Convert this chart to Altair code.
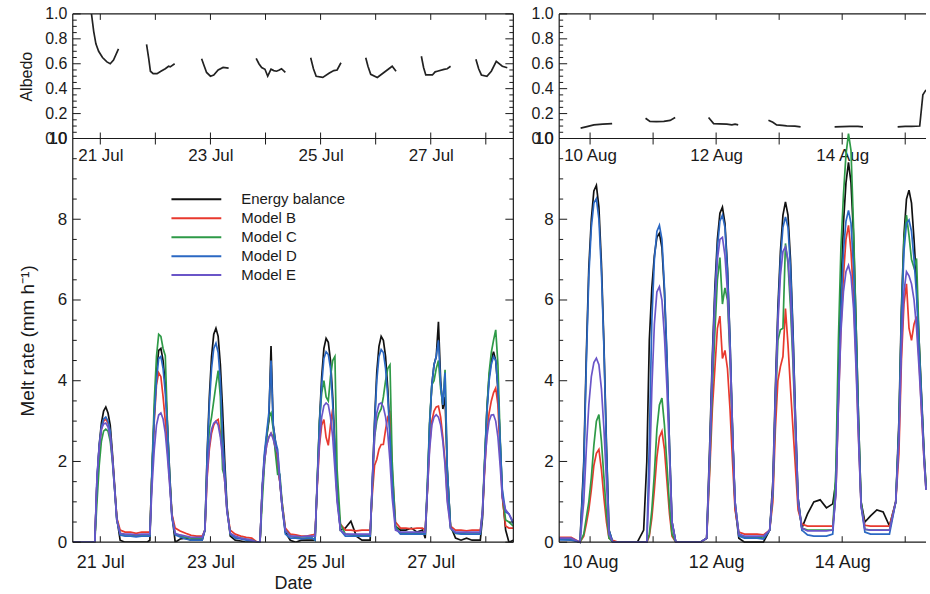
import altair as alt
import pandas as pd

FONT = "Liberation Sans"
INK = "#1a1a1a"
SERIES = ["Energy balance", "Model B", "Model C", "Model D", "Model E"]
COLORS = ["#111111", "#e8392e", "#2e9a47", "#2b68c3", "#6a55c8"]

# time grid (day of month), offsets around each day
OFFS = [-0.10, -0.06, -0.02, 0.02, 0.06, 0.10, 0.14, 0.18, 0.22, 0.26, 0.30,
        0.36, 0.45, 0.55, 0.65, 0.75, 0.85]
T_LEFT = ([20.50, 20.75, 20.85]
          + [round(d + o, 2) for d in range(21, 28) for o in OFFS]
          + [round(28 + o, 2) for o in OFFS[:11]] + [28.36, 28.42, 28.50])
T_RIGHT = ([9.51, 9.70, 9.84]
           + [round(d + o, 2) for d in range(10, 15) for o in OFFS]
           + [round(15 + o, 2) for o in OFFS[:11]] + [15.33])

# ---- melt rate, 20-28 July ----
BLACK_L = [
    0, 0, 0,
    0, 1.5, 2.4, 2.95, 3.25, 3.35, 3.2, 2.9, 2.2, 1.4, 0.6, 0.05, 0, 0, 0, 0, 0,
    0.05, 1.8, 3.2, 4.2, 4.75, 4.8, 4.5, 3.9, 2.9, 1.7, 0.7, 0.0, 0.08, 0.1, 0.05, 0.05, 0.05,
    0.3, 2.2, 3.6, 4.6, 5.15, 5.3, 5.1, 4.4, 3.3, 2.0, 0.9, 0.15, 0.05, 0.03, 0.0, 0.0, 0,
    0, 1.3, 2.1, 2.6, 3.0, 4.86, 2.9, 2.5, 2.0, 1.5, 0.9, 0.25, 0.05, 0.0, 0.05, 0.05, 0.05,
    0.05, 1.5, 3.0, 4.1, 4.8, 5.05, 4.95, 4.5, 3.6, 2.4, 1.2, 0.3, 0.35, 0.52, 0.15, 0.05, 0.05,
    0.05, 1.5, 3.0, 4.2, 4.85, 5.1, 5.0, 4.6, 3.8, 2.7, 1.5, 0.4, 0.3, 0.3, 0.35, 0.25, 0.3,
    0.1, 1.3, 2.9, 3.9, 4.4, 4.6, 5.46, 4.0, 3.3, 3.6, 1.8, 0.4, 0.1, 0.05, 0.1, 0.05, 0.05,
    0.05, 0.6, 2.0, 3.3, 4.1, 4.5, 4.72, 4.5, 3.8, 2.5, 1.2, 0.3, 0.0, 0.05,
]
RED_L = [
    0, 0, 0,
    0, 1.5, 2.3, 2.8, 3.0, 3.05, 2.95, 2.7, 2.1, 1.35, 0.6, 0.3, 0.25, 0.25, 0.22, 0.25, 0.25,
    0.25, 1.8, 3.0, 3.9, 4.2, 4.1, 3.6, 3.0, 2.3, 1.5, 0.7, 0.35, 0.28, 0.22, 0.17, 0.15, 0.15,
    0.3, 1.6, 2.3, 2.7, 2.9, 3.0, 3.04, 2.7, 2.2, 1.5, 0.8, 0.3, 0.2, 0.15, 0.12, 0.1, 0,
    0, 1.3, 2.0, 2.4, 2.6, 2.7, 2.6, 2.3, 1.9, 1.5, 1.0, 0.35, 0.2, 0.18, 0.15, 0.15, 0.18,
    0.2, 1.4, 2.4, 2.9, 3.04, 2.6, 2.4, 2.9, 3.3, 2.2, 1.1, 0.45, 0.3, 0.3, 0.28, 0.3, 0.3,
    0.3, 1.2, 1.9, 2.05, 2.3, 2.42, 2.42, 2.79, 3.1, 3.2, 1.8, 0.5, 0.35, 0.35, 0.33, 0.35, 0.35,
    0.3, 1.3, 2.4, 3.0, 3.25, 3.35, 3.37, 3.1, 2.6, 2.0, 1.1, 0.4, 0.3, 0.3, 0.28, 0.3, 0.3,
    0.3, 0.7, 1.8, 2.7, 3.2, 3.5, 3.7, 3.82, 3.4, 2.2, 1.1, 0.4, 0.35, 0.35,
]
GREEN_L = [
    0, 0, 0,
    0, 1.0, 1.9, 2.5, 2.75, 2.8, 2.75, 2.5, 2.0, 1.3, 0.55, 0.22, 0.18, 0.18, 0.17, 0.18, 0.18,
    0.18, 1.9, 3.5, 4.6, 5.15, 5.1, 4.8, 4.62, 2.9, 1.6, 0.65, 0.2, 0.15, 0.12, 0.1, 0.1, 0.1,
    0.3, 1.9, 2.8, 3.1, 3.5, 3.9, 4.25, 3.6, 1.8, 1.6, 0.8, 0.2, 0.12, 0.1, 0.07, 0.05, 0,
    0, 1.0, 1.9, 2.6, 3.1, 3.2, 2.8, 2.2, 1.68, 1.68, 1.0, 0.3, 0.15, 0.12, 0.1, 0.1, 0.1,
    0.05, 1.6, 3.0, 3.7, 4.0, 3.6, 3.5, 4.1, 4.5, 4.6, 1.8, 0.45, 0.2, 0.18, 0.17, 0.17, 0.17,
    0.15, 1.4, 2.6, 3.0, 3.2, 3.3, 3.6, 4.0, 4.3, 4.39, 2.0, 0.4, 0.22, 0.22, 0.22, 0.22, 0.22,
    0.2, 1.5, 3.0, 3.9, 4.0, 4.3, 4.5, 3.8, 3.4, 4.27, 1.8, 0.35, 0.22, 0.22, 0.2, 0.2, 0.2,
    0.2, 0.8, 2.1, 3.3, 4.2, 4.7, 5.0, 5.26, 4.4, 2.6, 1.2, 0.55, 0.5, 0.4,
]
BLUE_L = [
    0, 0, 0,
    0, 1.6, 2.4, 2.85, 3.05, 3.1, 3.0, 2.75, 2.1, 1.35, 0.55, 0.18, 0.15, 0.15, 0.13, 0.15, 0.15,
    0.15, 1.8, 3.1, 4.0, 4.55, 4.6, 4.3, 3.7, 2.8, 1.6, 0.6, 0.18, 0.13, 0.08, 0.05, 0.05, 0.05,
    0.3, 2.1, 3.4, 4.3, 4.8, 4.93, 4.7, 4.0, 2.6, 1.8, 0.8, 0.2, 0.1, 0.08, 0.05, 0.03, 0,
    0, 1.4, 2.2, 2.7, 3.2, 4.5, 2.9, 2.5, 2.3, 1.6, 0.9, 0.2, 0.1, 0.1, 0.08, 0.1, 0.1,
    0.05, 1.5, 2.9, 3.9, 4.55, 4.72, 4.65, 4.3, 3.4, 2.3, 1.1, 0.3, 0.15, 0.15, 0.15, 0.15, 0.15,
    0.15, 1.5, 2.9, 4.0, 4.6, 4.77, 4.7, 4.3, 3.6, 2.6, 1.5, 0.35, 0.2, 0.2, 0.2, 0.2, 0.2,
    0.2, 1.4, 2.9, 3.9, 4.4, 4.6, 5.0, 3.9, 3.4, 4.2, 1.8, 0.35, 0.22, 0.2, 0.2, 0.2, 0.2,
    0.2, 0.7, 2.0, 3.2, 4.0, 4.4, 4.6, 4.5, 3.8, 2.5, 1.3, 0.75, 0.7, 0.45,
]
PURPLE_L = [
    0, 0, 0,
    0, 1.6, 2.35, 2.8, 2.93, 2.95, 2.85, 2.6, 2.05, 1.3, 0.55, 0.22, 0.2, 0.2, 0.18, 0.2, 0.2,
    0.2, 1.4, 2.3, 2.9, 3.15, 3.2, 3.05, 2.7, 2.1, 1.4, 0.65, 0.22, 0.18, 0.15, 0.12, 0.12, 0.12,
    0.3, 1.7, 2.4, 2.8, 2.95, 3.0, 2.9, 2.6, 2.1, 1.5, 0.75, 0.22, 0.15, 0.1, 0.08, 0.05, 0,
    0, 1.3, 2.0, 2.4, 2.6, 2.7, 2.55, 2.35, 2.2, 1.5, 0.9, 0.3, 0.15, 0.15, 0.13, 0.15, 0.15,
    0.15, 1.5, 2.5, 3.1, 3.38, 3.45, 3.4, 3.1, 2.6, 1.8, 1.0, 0.3, 0.2, 0.2, 0.2, 0.2, 0.2,
    0.2, 1.5, 2.6, 3.2, 3.42, 3.45, 3.35, 3.1, 2.7, 2.0, 1.1, 0.3, 0.25, 0.25, 0.25, 0.25, 0.25,
    0.25, 1.3, 2.3, 2.9, 3.1, 3.16, 3.1, 2.9, 2.5, 1.9, 1.0, 0.35, 0.25, 0.25, 0.25, 0.25, 0.25,
    0.25, 0.8, 1.9, 2.6, 3.0, 3.15, 3.16, 3.0, 2.6, 1.9, 1.1, 0.8, 0.7, 0.5,
]

# ---- melt rate, 9-15 August ----
BLACK_R = [
    0.08, 0.08, 0,
    2.0, 4.6, 6.8, 8.0, 8.7, 8.84, 8.3, 6.9, 4.9, 2.4, 0.3, 0, 0, 0, 0, 0, 0.3,
    2.0, 5.0, 6.3, 7.1, 7.55, 7.65, 7.3, 6.2, 4.5, 2.4, 0.5, 0, 0, 0, 0, 0, 0.1,
    2.5, 4.6, 6.3, 7.5, 8.15, 8.3, 7.9, 6.8, 5.0, 2.8, 0.9, 0.1, 0, 0, 0, 0, 0.3,
    1.5, 3.8, 5.8, 7.2, 8.1, 8.43, 8.1, 7.0, 5.2, 3.0, 1.1, 0.35, 0.7, 1.0, 1.05, 0.85, 0.95,
    1.5, 4.0, 6.3, 7.9, 8.9, 9.41, 8.9, 7.6, 5.4, 3.0, 1.0, 0.5, 0.65, 0.8, 0.75, 0.4, 1.0,
    3.0, 5.8, 7.6, 8.5, 8.72, 8.4, 7.5, 6.4, 5.0, 3.6, 2.2, 1.4,
]
RED_R = [
    0.12, 0.12, 0,
    0.15, 0.45, 0.8, 1.3, 1.9, 2.2, 2.3, 1.8, 1.1, 0.5, 0.1, 0.05, 0, 0, 0, 0, 0,
    0, 0.15, 0.6, 1.3, 2.1, 2.6, 2.75, 2.3, 1.5, 0.7, 0.15, 0, 0, 0, 0, 0, 0.1,
    1.8, 3.3, 4.3, 5.3, 5.6, 4.55, 4.75, 4.3, 3.3, 2.0, 0.8, 0.25, 0.2, 0.2, 0.2, 0.18, 0.3,
    1.0, 2.8, 4.0, 4.35, 4.6, 5.79, 4.9, 3.8, 2.8, 1.8, 0.8, 0.45, 0.4, 0.4, 0.4, 0.4, 0.4,
    1.2, 3.4, 5.3, 6.6, 7.5, 7.85, 7.2, 6.1, 4.5, 2.6, 0.9, 0.42, 0.4, 0.4, 0.4, 0.4, 1.0,
    2.2, 4.5, 5.9, 6.4, 5.3, 5.0, 5.4, 5.59, 4.5, 3.2, 2.0, 1.3,
]
GREEN_R = [
    0.08, 0.08, 0,
    0.2, 0.6, 1.0, 1.6, 2.4, 3.0, 3.16, 2.5, 1.6, 0.7, 0.1, 0, 0, 0, 0, 0, 0,
    0, 0.2, 0.8, 1.7, 2.8, 3.4, 3.57, 2.9, 1.9, 0.9, 0.2, 0, 0, 0, 0, 0, 0.1,
    2.0, 3.8, 5.2, 6.5, 7.05, 5.9, 6.3, 6.0, 4.6, 2.7, 1.0, 0.2, 0.12, 0.12, 0.12, 0.1, 0.3,
    1.2, 3.3, 5.0, 5.26, 5.3, 7.4, 6.9, 5.8, 4.4, 2.6, 1.0, 0.35, 0.3, 0.3, 0.3, 0.3, 0.3,
    1.8, 5.0, 7.3, 8.6, 9.6, 10.12, 9.7, 7.8, 5.4, 3.0, 1.0, 0.32, 0.3, 0.3, 0.3, 0.3, 1.0,
    2.8, 5.6, 7.5, 8.1, 7.6, 7.0, 6.8, 7.03, 5.0, 3.5, 2.1, 1.4,
]
BLUE_R = [
    0.06, 0.05, 0,
    1.8, 4.4, 6.6, 7.8, 8.4, 8.51, 8.0, 6.7, 4.8, 2.3, 0.3, 0, 0, 0, 0, 0, 0,
    0, 2.5, 5.5, 7.0, 7.7, 7.85, 7.5, 6.3, 4.6, 2.4, 0.5, 0, 0, 0, 0, 0, 0.1,
    2.3, 4.4, 6.1, 7.3, 7.95, 8.1, 7.8, 6.7, 5.0, 2.8, 1.0, 0.15, 0.1, 0.1, 0.1, 0.08, 0.3,
    1.3, 3.6, 5.6, 7.0, 7.8, 8.06, 7.8, 6.8, 5.1, 3.0, 1.1, 0.3, 0.18, 0.15, 0.15, 0.15, 0.2,
    1.3, 3.6, 5.8, 7.2, 7.95, 8.22, 7.9, 6.8, 5.0, 2.8, 0.9, 0.25, 0.2, 0.2, 0.2, 0.2, 1.0,
    2.8, 5.5, 7.2, 7.9, 7.98, 7.7, 7.0, 6.1, 4.8, 3.5, 2.1, 1.3,
]
PURPLE_R = [
    0.1, 0.1, 0,
    1.0, 2.3, 3.4, 4.1, 4.45, 4.56, 4.4, 3.8, 2.8, 1.5, 0.2, 0, 0, 0, 0, 0, 0,
    0, 1.5, 3.8, 5.4, 6.2, 6.33, 6.0, 5.1, 3.8, 2.1, 0.5, 0, 0, 0, 0, 0, 0.1,
    2.2, 4.2, 5.9, 7.0, 7.5, 7.55, 7.1, 6.2, 4.7, 2.7, 1.0, 0.2, 0.15, 0.15, 0.15, 0.15, 0.3,
    1.3, 3.5, 5.4, 6.6, 7.2, 7.32, 7.0, 6.1, 4.6, 2.7, 1.0, 0.35, 0.28, 0.28, 0.28, 0.28, 0.3,
    1.2, 3.4, 5.2, 6.2, 6.7, 6.86, 6.6, 5.8, 4.3, 2.5, 0.9, 0.32, 0.3, 0.3, 0.3, 0.3, 1.0,
    2.5, 4.8, 6.2, 6.7, 6.6, 6.4, 6.0, 5.3, 4.3, 3.2, 2.0, 1.3,
]

# ---- albedo (daytime segments) ----
ALB_L_T = [
    [20.84, 20.88, 20.92, 20.97, 21.04, 21.12, 21.18, 21.24, 21.33],
    [21.84, 21.88, 21.91, 21.96, 22.03, 22.10, 22.18, 22.24, 22.27, 22.35],
    [22.84, 22.88, 22.93, 23.00, 23.06, 23.14, 23.23, 23.33],
    [23.83, 23.88, 23.93, 23.99, 24.04, 24.10, 24.15, 24.20, 24.25, 24.29, 24.36],
    [24.82, 24.87, 24.92, 25.04, 25.16, 25.24, 25.30, 25.37],
    [25.82, 25.86, 25.91, 26.03, 26.18, 26.30, 26.37],
    [26.83, 26.87, 26.91, 27.03, 27.08, 27.12, 27.24, 27.30, 27.36],
    [27.82, 27.87, 27.92, 28.02, 28.10, 28.19, 28.30, 28.39],
]
ALB_L_V = [
    [1.0, 0.86, 0.76, 0.70, 0.65, 0.615, 0.60, 0.63, 0.72],
    [0.755, 0.64, 0.54, 0.52, 0.52, 0.54, 0.56, 0.58, 0.575, 0.60],
    [0.64, 0.59, 0.53, 0.50, 0.51, 0.55, 0.57, 0.565],
    [0.643, 0.60, 0.57, 0.556, 0.50, 0.556, 0.545, 0.54, 0.55, 0.56, 0.53],
    [0.648, 0.56, 0.50, 0.49, 0.525, 0.545, 0.55, 0.608],
    [0.648, 0.58, 0.515, 0.49, 0.54, 0.58, 0.54],
    [0.66, 0.57, 0.51, 0.51, 0.535, 0.54, 0.555, 0.56, 0.58],
    [0.636, 0.56, 0.51, 0.50, 0.54, 0.62, 0.58, 0.568],
]
ALB_R_T = [
    [9.85, 9.95, 10.06, 10.20, 10.35],
    [10.88, 10.95, 11.05, 11.17, 11.27, 11.35],
    [11.88, 11.96, 12.05, 12.17, 12.25, 12.30, 12.35],
    [12.83, 12.90, 12.96, 13.05, 13.12, 13.25, 13.34],
    [13.88, 14.00, 14.12, 14.25, 14.33],
    [14.88, 15.00, 15.10, 15.23, 15.26, 15.28, 15.33],
]
ALB_R_V = [
    [0.083, 0.095, 0.109, 0.115, 0.12],
    [0.163, 0.137, 0.135, 0.137, 0.145, 0.168],
    [0.168, 0.12, 0.118, 0.115, 0.11, 0.115, 0.109],
    [0.147, 0.13, 0.109, 0.105, 0.101, 0.10, 0.093],
    [0.093, 0.095, 0.098, 0.097, 0.093],
    [0.093, 0.097, 0.098, 0.10, 0.25, 0.35, 0.39],
]

MELT_MAJOR = [0, 2, 4, 6, 8, 10]
MELT_MINOR = [0.5, 1, 1.5, 2.5, 3, 3.5, 4.5, 5, 5.5, 6.5, 7, 7.5, 8.5, 9, 9.5]
ALB_MAJOR = [0, 0.2, 0.4, 0.6, 0.8, 1.0]
ALB_MINOR = [0.05, 0.1, 0.15, 0.25, 0.3, 0.35, 0.45, 0.5, 0.55, 0.65, 0.7, 0.75, 0.85, 0.9, 0.95]
DAYS_L = [21, 22, 23, 24, 25, 26, 27, 28]
DAYS_R = [10, 11, 12, 13, 14, 15]
LAB_L = [21, 23, 25, 27]
LAB_R = [10, 12, 14]
XDOM_L = [20.5, 28.5]
XDOM_R = [9.51, 15.33]

WL, WR, HA, HM = 442, 368, 125, 405
ONE = pd.DataFrame({"k": [0]})


def melt_frame(times, cols):
    rows = []
    for name, vals in zip(SERIES, cols):
        if len(vals) != len(times):
            raise ValueError(f"{name}: {len(vals)} vs {len(times)}")
        rows += [{"t": t, "v": v, "series": name} for t, v in zip(times, vals)]
    return pd.DataFrame(rows)


def alb_frame(tt, vv):
    rows = []
    for i, (ts, vs) in enumerate(zip(tt, vv)):
        rows += [{"t": t, "v": v, "seg": i} for t, v in zip(ts, vs)]
    return pd.DataFrame(rows)


def hline(y, x0, x1):
    return alt.Chart(ONE).mark_rule(color=INK, strokeWidth=1.2).encode(
        y=alt.value(y), x=alt.value(x0), x2=alt.value(x1))


def vline(x, y0, y1):
    return alt.Chart(ONE).mark_rule(color=INK, strokeWidth=1.2).encode(
        x=alt.value(x), y=alt.value(y0), y2=alt.value(y1))


def yticks(vals, ys, x0, x1, ax):
    return alt.Chart(pd.DataFrame({"v": vals})).mark_rule(color=INK, strokeWidth=1).encode(
        y=alt.Y("v:Q", scale=ys, axis=ax), x=alt.value(x0), x2=alt.value(x1))


def xticks(vals, xs, y0, y1, ax):
    return alt.Chart(pd.DataFrame({"t": vals})).mark_rule(color=INK, strokeWidth=1).encode(
        x=alt.X("t:Q", scale=xs, axis=ax), y=alt.value(y0), y2=alt.value(y1))


def x_axis(labels, month, size, pad, title=None):
    kw = dict(values=labels, labelExpr=f"datum.value + ' {month}'", ticks=False,
              domain=False, grid=False, labelFontSize=size, labelPadding=pad,
              labelFlush=False, labelOverlap=False, labelColor=INK, title=title)
    if title:
        kw.update(titleFontSize=18, titleFontWeight="normal", titlePadding=3, titleColor=INK)
    return alt.Axis(**kw)


def y_axis(values, size, fmt=None, title=None, tsize=18):
    kw = dict(values=values, ticks=False, domain=False, grid=False, labelFontSize=size,
              labelPadding=6, labelFlush=False, labelOverlap=False, labelColor=INK, title=title)
    if fmt:
        kw["format"] = fmt
    if title:
        kw.update(titleFontSize=tsize, titleFontWeight="normal", titlePadding=10, titleColor=INK)
    return alt.Axis(**kw)


def albedo_panel(tt, vv, xdom, days, labels, month, W, left_title, right_border):
    xs = alt.Scale(domain=xdom, nice=False, zero=False)
    ys = alt.Scale(domain=[0, 1], nice=False)
    xa = x_axis(labels, month, 17, 9)
    ya = y_axis(ALB_MAJOR, 16, ".1f", "Albedo" if left_title else None, 16)
    line = alt.Chart(alb_frame(tt, vv)).mark_line(color="#222222", strokeWidth=1.7, clip=True).encode(
        x=alt.X("t:Q", scale=xs, axis=xa),
        y=alt.Y("v:Q", scale=ys, axis=ya),
        detail="seg:N")
    layers = [line,
              yticks(ALB_MAJOR, ys, 0, 8, ya), yticks(ALB_MINOR, ys, 0, 4, ya),
              xticks(days, xs, 0, 6, xa), xticks(days, xs, HA, HA - 6, xa),
              hline(0, 0, W), hline(HA, 0, W), vline(0, 0, HA)]
    if right_border:
        layers += [yticks(ALB_MAJOR, ys, W, W - 8, ya), yticks(ALB_MINOR, ys, W, W - 4, ya),
                   vline(W, 0, HA)]
    return alt.layer(*layers).properties(width=W, height=HA)


def melt_panel(times, cols, xdom, days, labels, month, W, left_title, right_border, legend, clip):
    xs = alt.Scale(domain=xdom, nice=False, zero=False)
    ys = alt.Scale(domain=[0, 10], nice=False)
    xa = x_axis(labels, month, 18, 11, "Date" if left_title else None)
    ya = y_axis(MELT_MAJOR, 17, None, "Melt rate (mm h\u207b\u00b9)" if left_title else None, 19)
    if legend:
        leg = alt.Legend(orient="none", legendX=98, legendY=178, title=None,
                         symbolType="stroke", symbolSize=2500, symbolStrokeWidth=2,
                         labelFontSize=15, labelFont=FONT, labelColor=INK,
                         clipHeight=16, rowPadding=3, labelOffset=19, padding=0)
    else:
        leg = None
    line = alt.Chart(melt_frame(times, cols)).mark_line(strokeWidth=1.7, clip=clip).encode(
        x=alt.X("t:Q", scale=xs, axis=xa),
        y=alt.Y("v:Q", scale=ys, axis=ya),
        color=alt.Color("series:N", scale=alt.Scale(domain=SERIES, range=COLORS),
                        sort=SERIES, legend=leg))
    layers = [line,
              yticks(MELT_MAJOR, ys, 0, 8, ya), yticks(MELT_MINOR, ys, 0, 4, ya),
              xticks(days, xs, 0, 6, xa), xticks(days, xs, HM, HM - 6, xa),
              hline(HM, 0, W), vline(0, 0, HM)]
    if right_border:
        layers += [yticks(MELT_MAJOR, ys, W, W - 8, ya), yticks(MELT_MINOR, ys, W, W - 4, ya),
                   vline(W, 0, HM)]
    return alt.layer(*layers).properties(width=W, height=HM)


aL = albedo_panel(ALB_L_T, ALB_L_V, XDOM_L, DAYS_L, LAB_L, "Jul", WL, True, True)
mL = melt_panel(T_LEFT, [BLACK_L, RED_L, GREEN_L, BLUE_L, PURPLE_L], XDOM_L, DAYS_L, LAB_L,
                "Jul", WL, True, True, True, True)
aR = albedo_panel(ALB_R_T, ALB_R_V, XDOM_R, DAYS_R, LAB_R, "Aug", WR, False, False)
mR = melt_panel(T_RIGHT, [BLACK_R, RED_R, GREEN_R, BLUE_R, PURPLE_R], XDOM_R, DAYS_R, LAB_R,
                "Aug", WR, False, False, False, False)

chart = alt.concat(
    aL, aR, mL, mR, columns=2,
    spacing={"row": 0, "column": 46}, bounds="flush",
).properties(
    padding={"left": 18, "top": 5, "right": 0, "bottom": 0},
    background="white",
).configure_view(stroke=None).configure_axis(
    labelFont=FONT, titleFont=FONT
).configure_legend(labelFont=FONT)

chart.save("out.html", embed_options={"renderer": "svg", "actions": False})
